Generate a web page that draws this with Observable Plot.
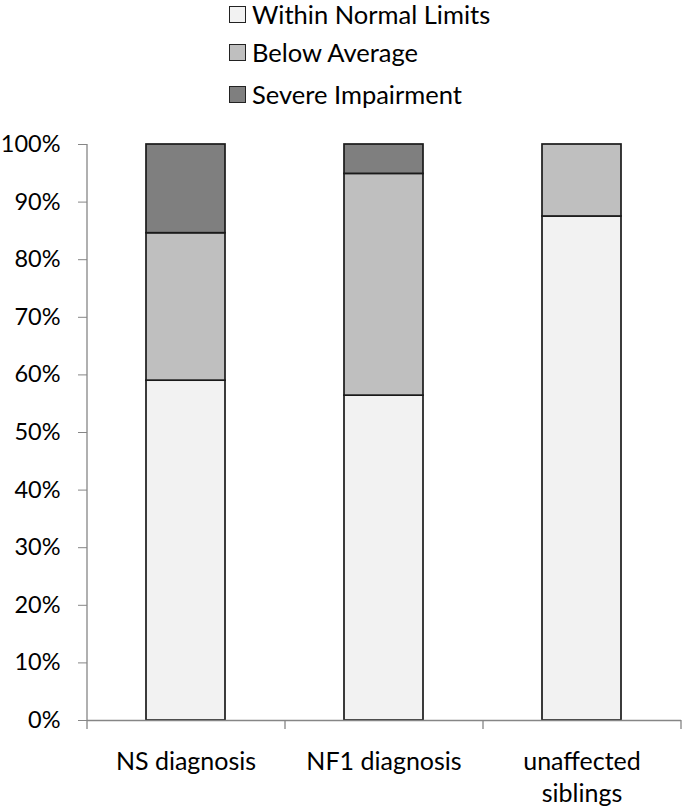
<!DOCTYPE html>
<html>
<head>
<meta charset="utf-8">
<script src="https://cdn.jsdelivr.net/npm/d3@7"></script>
<script src="https://cdn.jsdelivr.net/npm/@observablehq/plot@0.6"></script>
<style>
  body { margin: 0; background: #fff; font-family: Lato, "Open Sans", sans-serif; }
  #legend { position: relative; height: 120px; width: 685px; }
  .row { position: absolute; left: 229px; display: flex; align-items: center; font-size: 25.5px; color: #000; height: 30px; }
  .sw { width: 15px; height: 15px; border: 1.5px solid #222; margin-right: 6px; }
  svg { display: block; }
</style>
</head>
<body>
<div id="legend"></div>
<div id="chart"></div>
<script>
const categories = ["NS diagnosis", "NF1 diagnosis", "unaffected\nsiblings"];
const levels = ["Within Normal Limits", "Below Average", "Severe Impairment"];
const colors = ["#f2f2f2", "#bfbfbf", "#7f7f7f"];
const withinNormal = [59.0, 56.4, 87.5];
const belowAverage = [25.6, 38.5, 12.5];
const severe = [15.4, 5.1, 0];
const yTicks = [0, 10, 20, 30, 40, 50, 60, 70, 80, 90, 100];

const rows = [];
categories.forEach((c, i) => {
  rows.push({category: c, level: levels[0], value: withinNormal[i]});
  rows.push({category: c, level: levels[1], value: belowAverage[i]});
  rows.push({category: c, level: levels[2], value: severe[i]});
});

// legend
const legend = document.getElementById("legend");
const legendTops = [-1, 37, 79];
levels.forEach((l, i) => {
  const r = document.createElement("div");
  r.className = "row";
  r.style.top = legendTops[i] + "px";
  r.innerHTML = `<span class="sw" style="background:${colors[i]}"></span><span>${l}</span>`;
  legend.appendChild(r);
});

const axisGray = "#868686";
const chart = Plot.plot({
  width: 685,
  height: 688,
  marginTop: 24,
  marginBottom: 88,
  marginLeft: 87,
  marginRight: 4,
  style: {fontFamily: "Lato, 'Open Sans', sans-serif", fontSize: "22px", color: "#000", background: "#fff"},
  x: {domain: categories, paddingInner: 0.6, paddingOuter: 0.3, axis: null, label: null},
  y: {domain: [0, 100], axis: null, label: null},
  color: {domain: levels, range: colors},
  marks: [
    Plot.barY(rows.filter(d => d.value > 0), Plot.stackY({
      x: "category", y: "value", fill: "level", order: levels,
      stroke: "#1a1a1a", strokeWidth: 1.7
    })),
    Plot.ruleX(categories.slice(0, 1), {x: d => d, y1: 0, y2: 100, dx: -99, stroke: axisGray, strokeWidth: 1.3}),
    Plot.ruleY([0], {stroke: axisGray, strokeWidth: 1.3}),
    Plot.axisY({ticks: yTicks, tickSize: 9, tickPadding: 18, stroke: axisGray, tickFormat: d => d + "%", fontSize: 23.5, fill: "#000", label: null}),
    Plot.ruleX(categories, {x: d => d, y1: 0, y2: 0, insetBottom: -9, dx: -99, stroke: axisGray, strokeWidth: 1.3}),
    Plot.ruleX(categories.slice(-1), {x: d => d, y1: 0, y2: 0, insetBottom: -9, dx: 99, stroke: axisGray, strokeWidth: 1.3}),
    Plot.axisX({tickSize: 0, tickPadding: 26, lineHeight: 1.3, fontSize: 25, fill: "#000", label: null})
  ]
});
document.getElementById("chart").appendChild(chart);
</script>
</body>
</html>
